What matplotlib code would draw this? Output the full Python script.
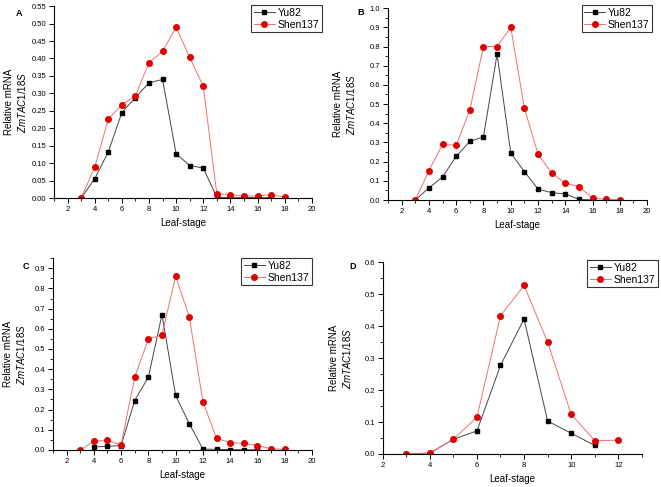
import numpy as np
import matplotlib
matplotlib.use('Agg')
import matplotlib.pyplot as plt
from matplotlib.ticker import MultipleLocator, FormatStrFormatter

plt.rcParams['font.family'] = ['Liberation Sans', 'DejaVu Sans']
plt.rcParams['mathtext.fontset'] = 'custom'
plt.rcParams['mathtext.it'] = 'Liberation Sans:italic'
plt.rcParams['mathtext.rm'] = 'Liberation Sans'

# panel A
a_x_yu = [3, 4, 5, 6, 7, 8, 9, 10, 11, 12, 13, 14, 15, 16, 17]
a_yu82 = [0.0, 0.055, 0.132, 0.245, 0.288, 0.330, 0.340, 0.127, 0.093, 0.086, 0.002, 0.001, 0.001, 0.001, 0.001]
a_x_sh = [3, 4, 5, 6, 7, 8, 9, 10, 11, 12, 13, 14, 15, 16, 17, 18]
a_shen = [0.0, 0.088, 0.226, 0.267, 0.293, 0.388, 0.420, 0.490, 0.403, 0.320, 0.012, 0.010, 0.005, 0.006, 0.010, 0.002]

# panel B
b_x_yu = [3, 4, 5, 6, 7, 8, 9, 10, 11, 12, 13, 14, 15, 16]
b_yu82 = [0.0, 0.063, 0.120, 0.228, 0.305, 0.330, 0.760, 0.245, 0.148, 0.057, 0.038, 0.032, 0.003, 0.001]
b_x_sh = [3, 4, 5, 6, 7, 8, 9, 10, 11, 12, 13, 14, 15, 16, 17, 18]
b_shen = [0.0, 0.153, 0.290, 0.285, 0.470, 0.800, 0.800, 0.900, 0.478, 0.240, 0.140, 0.088, 0.070, 0.010, 0.003, 0.002]

# panel C
c_x_yu = [4, 5, 6, 7, 8, 9, 10, 11, 12, 13, 14, 15, 16]
c_yu82 = [0.015, 0.018, 0.022, 0.245, 0.360, 0.670, 0.270, 0.130, 0.005, 0.003, 0.002, 0.001, 0.001]
c_x_sh = [3, 4, 5, 6, 7, 8, 9, 10, 11, 12, 13, 14, 15, 16, 17, 18]
c_shen = [0.0, 0.043, 0.048, 0.025, 0.360, 0.550, 0.570, 0.860, 0.660, 0.240, 0.057, 0.037, 0.033, 0.022, 0.006, 0.003]

# panel D
d_x_yu = [3, 4, 5, 6, 7, 8, 9, 10, 11]
d_yu82 = [0.0, 0.003, 0.046, 0.072, 0.277, 0.422, 0.103, 0.065, 0.027]
d_x_sh = [3, 4, 5, 6, 7, 8, 9, 10, 11, 12]
d_shen = [0.0, 0.002, 0.046, 0.115, 0.432, 0.527, 0.350, 0.124, 0.042, 0.043]

panels = [
    # letter, rect, data, xlim, ylim, ymajor, yfmt, legend anchor, letter pos, ylabel x
    ('A', [0.0817, 0.5934, 0.390, 0.394], (a_x_yu, a_yu82, a_x_sh, a_shen),
     (1, 20), (0, 0.55), 0.05, '%.2f', (1.04, 1.005), (0.029, 0.972), -0.10),
    ('B', [0.587, 0.5893, 0.392, 0.394], (b_x_yu, b_yu82, b_x_sh, b_shen),
     (1, 20), (0, 1.0), 0.1, '%.1f', (1.02, 1.016), (0.546, 0.974), -0.12),
    ('C', [0.080, 0.076, 0.392, 0.394], (c_x_yu, c_yu82, c_x_sh, c_shen),
     (1, 20), (0, 0.95), 0.1, '%.1f', (1.0, 1.0), (0.039, 0.452), -0.10),
    ('D', [0.579, 0.0678, 0.392, 0.394], (d_x_yu, d_yu82, d_x_sh, d_shen),
     (2, 13), (0, 0.6), 0.1, '%.1f', (1.062, 1.01), (0.534, 0.452), -0.115),
]

fig = plt.figure(figsize=(6.61, 4.87), dpi=100)

for letter, rect, data, xlim, ylim, ymaj, yfmt, anchor, lpos, ylx in panels:
    ax = fig.add_axes(rect)
    xy, yy, xs, ys = data
    ax.plot(xy, yy, color='#444444', lw=0.7, marker='s', ms=3.2,
            mfc='black', mec='black', label='Yu82')
    ax.plot(xs, ys, color='#f07070', lw=0.7, marker='o', ms=4,
            mfc='#e00000', mec='#e00000', label='Shen137')
    ax.set_xlim(*xlim)
    ax.set_ylim(*ylim)
    ax.xaxis.set_major_locator(MultipleLocator(2))
    ax.xaxis.set_minor_locator(MultipleLocator(1))
    ax.yaxis.set_major_locator(MultipleLocator(ymaj))
    if ymaj == 0.1:
        ax.yaxis.set_minor_locator(MultipleLocator(0.05))
    ax.yaxis.set_major_formatter(FormatStrFormatter(yfmt))
    ax.spines['top'].set_visible(False)
    ax.spines['right'].set_visible(False)
    for sp in ('left', 'bottom'):
        ax.spines[sp].set_linewidth(0.8)
    ax.tick_params(which='major', direction='out', length=3.5, width=0.7,
                   labelsize=5.5, pad=2)
    ax.tick_params(which='minor', direction='out', length=2, width=0.6)
    ax.set_xlabel('Leaf-stage', fontsize=7, labelpad=4)
    ax.set_ylabel('Relative mRNA\n$\\mathit{ZmTAC1/18S}$', fontsize=7,
                  linespacing=1.2)
    ax.yaxis.set_label_coords(ylx, 0.5)
    leg = ax.legend(loc='upper right', bbox_to_anchor=anchor, borderaxespad=0,
                    fontsize=7.5, frameon=True, fancybox=False, handlelength=2.0,
                    handletextpad=0.3, borderpad=0.25, labelspacing=0.2)
    leg.get_frame().set_edgecolor('black')
    leg.get_frame().set_linewidth(0.8)
    fig.text(lpos[0], lpos[1], letter, fontsize=6.5, fontweight='bold',
             ha='center', va='center')

fig.savefig('out.png', dpi=100)
